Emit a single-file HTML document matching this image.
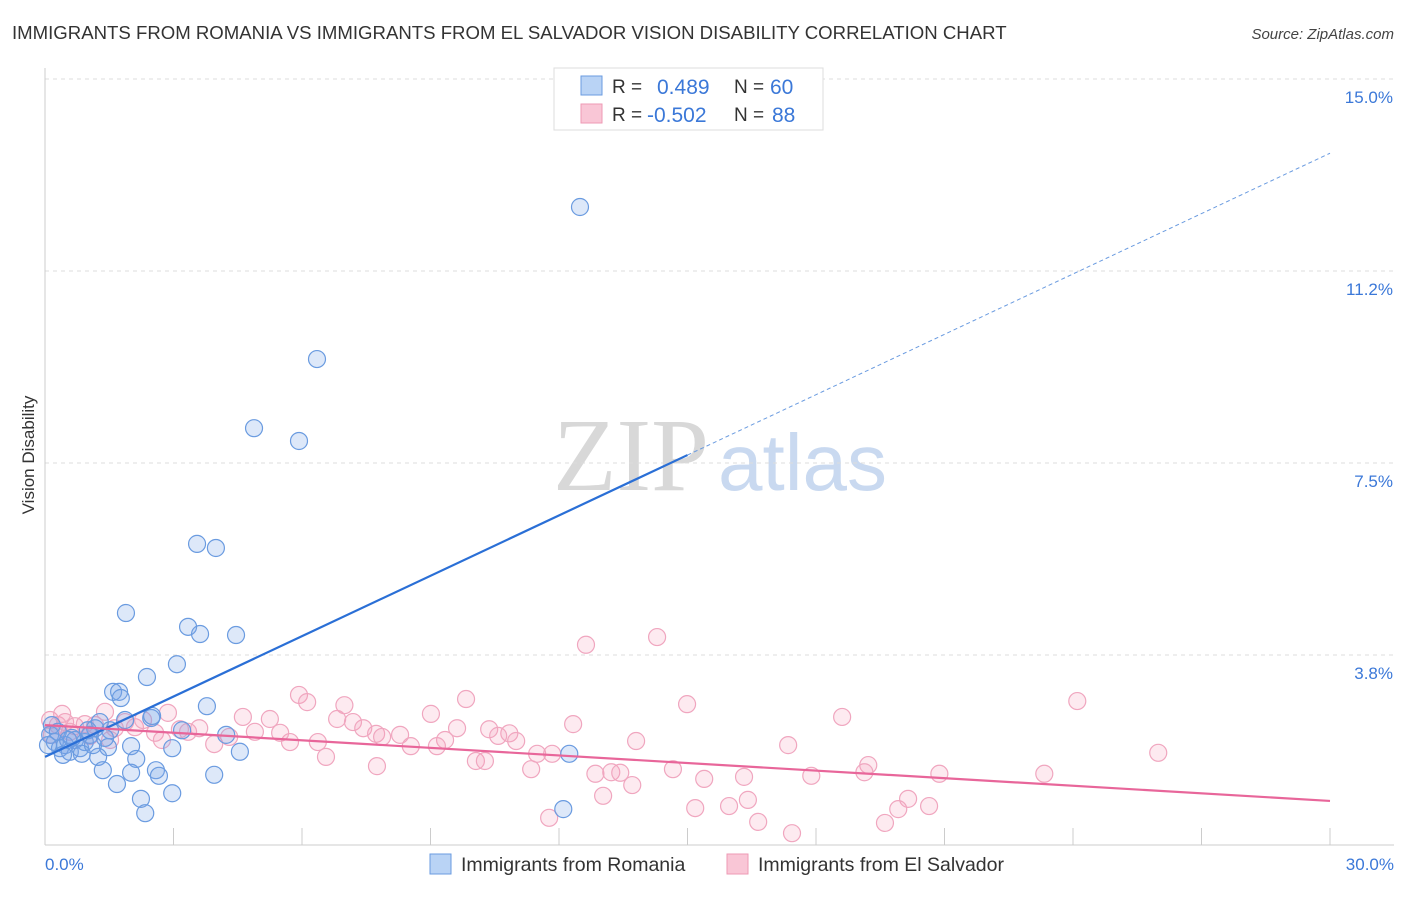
<!DOCTYPE html>
<html><head><meta charset="utf-8"><style>
body{margin:0;background:#fff;font-family:"Liberation Sans",sans-serif}
</style></head><body>
<svg width="1406" height="892" xmlns="http://www.w3.org/2000/svg" font-family="Liberation Sans, sans-serif">
<text x="12" y="39" font-size="18.6" fill="#333">IMMIGRANTS FROM ROMANIA VS IMMIGRANTS FROM EL SALVADOR VISION DISABILITY CORRELATION CHART</text>
<text x="1394" y="39" font-size="15" fill="#444" font-style="italic" text-anchor="end">Source: ZipAtlas.com</text>
<g>
<text x="553" y="490" font-size="104" fill="#d8d8d8" font-family="Liberation Serif, serif">ZIP</text>
<text x="718" y="490" font-size="80" fill="#c9d9f0">atlas</text>
</g>
<g id="grid"></g>
<g id="axes"></g>
<g id="pts"></g>
<g id="lines"></g>
<text transform="translate(34,455) rotate(-90)" font-size="17" fill="#333" text-anchor="middle">Vision Disability</text>
<text x="45" y="870" font-size="17" fill="#3b78d8">0.0%</text>
<text x="1394" y="870" font-size="17" fill="#3b78d8" text-anchor="end">30.0%</text>
<g>
<rect x="554" y="68" width="269" height="62" fill="#fff" stroke="#ddd"/>
<rect x="581" y="76" width="21" height="19" fill="#b9d3f5" stroke="#6a9be0"/>
<rect x="581" y="104" width="21" height="19" fill="#f9c6d6" stroke="#ee9ab4"/>
<text x="612" y="93" font-size="19" fill="#333">R =</text>
<text x="657" y="94" font-size="21" fill="#3b78d8">0.489</text>
<text x="734" y="93" font-size="19" fill="#333">N =</text>
<text x="770" y="94" font-size="21" fill="#3b78d8">60</text>
<text x="612" y="121" font-size="19" fill="#333">R =</text>
<text x="647" y="122" font-size="21" fill="#3b78d8">-0.502</text>
<text x="734" y="121" font-size="19" fill="#333">N =</text>
<text x="772" y="122" font-size="21" fill="#3b78d8">88</text>
</g>
<g>
<rect x="430" y="854" width="21" height="20" fill="#b9d3f5" stroke="#6a9be0"/>
<text x="461" y="871" font-size="19.5" fill="#333">Immigrants from Romania</text>
<rect x="727" y="854" width="21" height="20" fill="#f9c6d6" stroke="#ee9ab4"/>
<text x="758" y="871" font-size="19.5" fill="#333">Immigrants from El Salvador</text>
</g>
</svg>
<script>
const yTicks=[3.8,7.5,11.2,15.0];
const yTickPos=[3.75,7.5,11.25,15.0];
const xTicks=[0,3,6,9,12,15,18,21,24,27,30];
const blueX=[12.49,6.35,4.88,5.93,3.55,3.99,1.89,3.34,3.62,4.46,3.08,2.38,1.59,1.73,1.77,3.78,2.48,3.20,4.23,12.24,2.97,2.01,1.47,4.55,1.24,2.13,2.59,1.35,2.01,2.66,3.95,1.68,2.97,2.24,2.34,12.10,0.12,0.23,0.35,0.47,0.58,0.70,0.82,0.93,1.05,1.17,1.28,1.00,0.63,0.16,0.42,0.86,1.52,1.87,2.50,0.30,0.54,1.12,1.40,0.07];
const blueY=[12.50,9.53,8.18,7.93,5.92,5.84,4.57,4.30,4.16,4.14,3.57,3.32,3.03,3.03,2.91,2.75,2.52,2.28,2.19,1.82,1.93,1.97,1.95,1.86,1.76,1.72,1.50,1.50,1.45,1.39,1.41,1.23,1.05,0.94,0.66,0.74,2.19,2.05,1.93,1.99,1.86,2.09,1.93,2.05,2.19,2.32,2.44,2.28,2.13,2.38,1.80,1.82,2.28,2.48,2.56,2.25,2.09,1.99,2.13,1.99];
const pinkX=[14.29,12.63,24.10,14.99,9.83,5.93,6.12,6.99,18.61,25.99,4.62,5.25,6.82,7.19,9.01,12.33,2.87,9.62,10.37,10.84,7.43,7.73,7.87,8.29,9.34,9.15,10.58,11.00,8.54,6.37,5.72,13.80,17.35,4.30,3.95,3.34,3.60,4.90,5.49,6.56,7.75,10.06,10.27,11.49,11.84,11.35,14.66,19.22,19.13,12.85,13.22,13.43,15.39,16.32,17.89,20.88,23.33,13.71,13.03,16.41,20.15,20.64,19.92,15.18,15.97,11.77,16.65,19.61,17.44,0.12,0.30,0.47,0.70,0.93,1.17,1.40,1.63,1.87,2.10,2.29,2.57,2.73,3.15,0.16,0.58,1.05,1.52,0.40];
const pinkY=[4.10,3.95,2.85,2.79,2.89,2.97,2.83,2.77,2.54,1.84,2.54,2.50,2.50,2.44,2.60,2.40,2.62,2.32,2.30,2.22,2.32,2.21,2.15,2.19,2.09,1.97,2.17,2.07,1.97,2.05,2.05,2.07,1.99,2.15,2.01,2.25,2.32,2.25,2.23,1.76,1.58,1.68,1.68,1.82,1.82,1.52,1.52,1.60,1.46,1.43,1.46,1.45,1.33,1.37,1.39,1.43,1.43,1.21,1.00,0.92,0.94,0.80,0.74,0.76,0.80,0.57,0.49,0.47,0.27,2.48,2.38,2.44,2.36,2.40,2.38,2.64,2.32,2.44,2.34,2.48,2.23,2.09,2.30,2.19,2.25,2.17,2.09,2.60];
const blueTrend=[1.76,13.55];   // y at x=0 and x=30
const pinkTrend=[2.38,0.90];
const NS='http://www.w3.org/2000/svg';
const X=v=>45+v/30*1285;
const Y=v=>847-v*51.2;
function mk(tag,attrs,parent){const e=document.createElementNS(NS,tag);for(const k in attrs)e.setAttribute(k,attrs[k]);document.getElementById(parent).appendChild(e);return e;}
let g=mk('line',{x1:45,x2:1394,y1:Y(15.0),y2:Y(15.0),stroke:'#ddd','stroke-dasharray':'4,4'},'grid');


yTicks.forEach((t,i)=>{
 const l=mk('line',{x1:45,x2:1394,y1:Y(yTickPos[i]),y2:Y(yTickPos[i]),stroke:'#ddd','stroke-dasharray':'4,4'},'grid');
 
 
 const tx=mk('text',{x:1393,y:Y(yTickPos[i])+24,'font-size':17,fill:'#3b78d8','text-anchor':'end'},'grid');
 tx.textContent=t.toFixed(1)+'%';
 
 
});
let ax=mk('line',{x1:45,x2:45,y1:68,y2:845,stroke:'#ccc'},'axes');


let bx=mk('line',{x1:45,x2:1394,y1:845,y2:845,stroke:'#ccc'},'axes');


xTicks.forEach(t=>{
 const l=mk('line',{x1:X(t),x2:X(t),y1:828,y2:845,stroke:'#ccc'},'axes');
 
 
});
pinkX.forEach((v,i)=>{
 const c=mk('circle',{cx:X(v),cy:Y(pinkY[i]),r:8.5,fill:'rgba(244,160,185,0.22)',stroke:'#f0a6bf','stroke-width':1.2},'pts');
 
 
});
blueX.forEach((v,i)=>{
 const c=mk('circle',{cx:X(v),cy:Y(blueY[i]),r:8.5,fill:'rgba(120,165,230,0.25)',stroke:'#6a9be0','stroke-width':1.2},'pts');
 
 
});
const bAt=x=>blueTrend[0]+(blueTrend[1]-blueTrend[0])*x/30;
let l1=mk('line',{x1:X(0),y1:Y(bAt(0)),x2:X(15),y2:Y(bAt(15)),stroke:'#2a6fd6','stroke-width':2.2},'lines');


let l2=mk('line',{x1:X(15),y1:Y(bAt(15)),x2:X(30),y2:Y(bAt(30)),stroke:'#6a9be0','stroke-width':1,'stroke-dasharray':'4,3'},'lines');


let l3=mk('line',{x1:X(0),y1:Y(pinkTrend[0]),x2:X(30),y2:Y(pinkTrend[1]),stroke:'#e8669a','stroke-width':2.2},'lines');


</script>
</body></html>
